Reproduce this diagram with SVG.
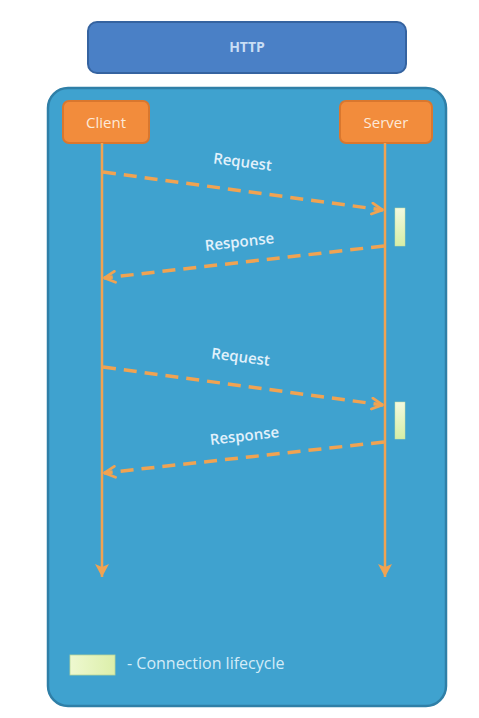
<svg xmlns="http://www.w3.org/2000/svg" width="479" height="718" viewBox="0 0 479 718">
<defs>
<linearGradient id="bar" x1="0" y1="0" x2="0" y2="1"><stop offset="0" stop-color="#f2f9df"/><stop offset="1" stop-color="#d6eea6"/></linearGradient>
<linearGradient id="leg" x1="0" y1="0" x2="1" y2="0"><stop offset="0" stop-color="#eef8d0"/><stop offset="1" stop-color="#dcefaa"/></linearGradient>
<marker id="open" viewBox="0 0 14 14" refX="13" refY="7" markerWidth="14" markerHeight="14" markerUnits="userSpaceOnUse" orient="auto"><path d="M2,1.5 L12.5,7 L2,12.5" fill="none" stroke="#f0a352" stroke-width="2.8" stroke-linecap="round" stroke-linejoin="round"/></marker>
<marker id="down" viewBox="0 0 16 16" refX="15" refY="8" markerWidth="16" markerHeight="16" markerUnits="userSpaceOnUse" orient="auto"><path d="M2,1 L15,8 L2,15 L5,8 Z" fill="#f0a352"/></marker>
</defs>
<style>
.t{font-family:"Open Sans","Noto Sans","Liberation Sans",sans-serif;}
.lbl{font-size:15px;fill:#e2f1fb;font-weight:600;}
.dash{fill:none;stroke:#f0a352;stroke-width:3.5;stroke-dasharray:13 8;}
.life{stroke:#f0a352;stroke-width:2.5;}
.actor{fill:#f28c3c;stroke:#d9772e;stroke-width:2;}
</style>
<rect width="479" height="718" fill="#ffffff"/>
<g id="http">
<rect x="88" y="22" width="318" height="51" rx="9" fill="#4a80c6" stroke="#3563a0" stroke-width="2"/>
<text class="t" x="247" y="52" text-anchor="middle" font-size="14" font-weight="700" fill="#c9def5">HTTP</text>
</g>
<g id="panel">
<rect x="48" y="88" width="398" height="618" rx="20" fill="#3fa2cf" stroke="#2f7fa7" stroke-width="2.5"/>
</g>
<g id="client">
<rect class="actor" x="63" y="101" width="86" height="42" rx="6"/>
<text class="t" x="106" y="128" text-anchor="middle" font-size="15" fill="#fde9d8">Client</text>
</g>
<g id="server">
<rect class="actor" x="340" y="101" width="92" height="42" rx="6"/>
<text class="t" x="386" y="128" text-anchor="middle" font-size="15" fill="#fde9d8">Server</text>
</g>
<g id="bar1"><rect x="395" y="208" width="10" height="38" fill="url(#bar)" stroke="#c8dfa0" stroke-width="0.5"/></g>
<g id="bar2"><rect x="395" y="402" width="10" height="37" fill="url(#bar)" stroke="#c8dfa0" stroke-width="0.5"/></g>
<g id="connectors">
<line class="life" x1="102" y1="143" x2="102" y2="577" marker-end="url(#down)"/>
<line class="life" x1="385" y1="143" x2="385" y2="577" marker-end="url(#down)"/>
<line class="dash" x1="103" y1="172" x2="383" y2="210" marker-end="url(#open)"/>
<line class="dash" x1="384" y1="246" x2="104" y2="278" marker-end="url(#open)"/>
<line class="dash" x1="103" y1="367" x2="383" y2="405" marker-end="url(#open)"/>
<line class="dash" x1="384" y1="442" x2="104" y2="473" marker-end="url(#open)"/>
<text class="t lbl" transform="translate(242,167) rotate(7.5)" text-anchor="middle">Request</text>
<text class="t lbl" transform="translate(240,247) rotate(-6.5)" text-anchor="middle">Response</text>
<text class="t lbl" transform="translate(240,362) rotate(7.5)" text-anchor="middle">Request</text>
<text class="t lbl" transform="translate(245,441) rotate(-6.5)" text-anchor="middle">Response</text>
</g>
<g id="legend">
<rect x="70" y="655" width="45" height="20" fill="url(#leg)" stroke="#b9d69a" stroke-width="0.8"/>
<text class="t" x="127" y="669" font-size="16" fill="#d3ecf8">- Connection lifecycle</text>
</g>
</svg>
